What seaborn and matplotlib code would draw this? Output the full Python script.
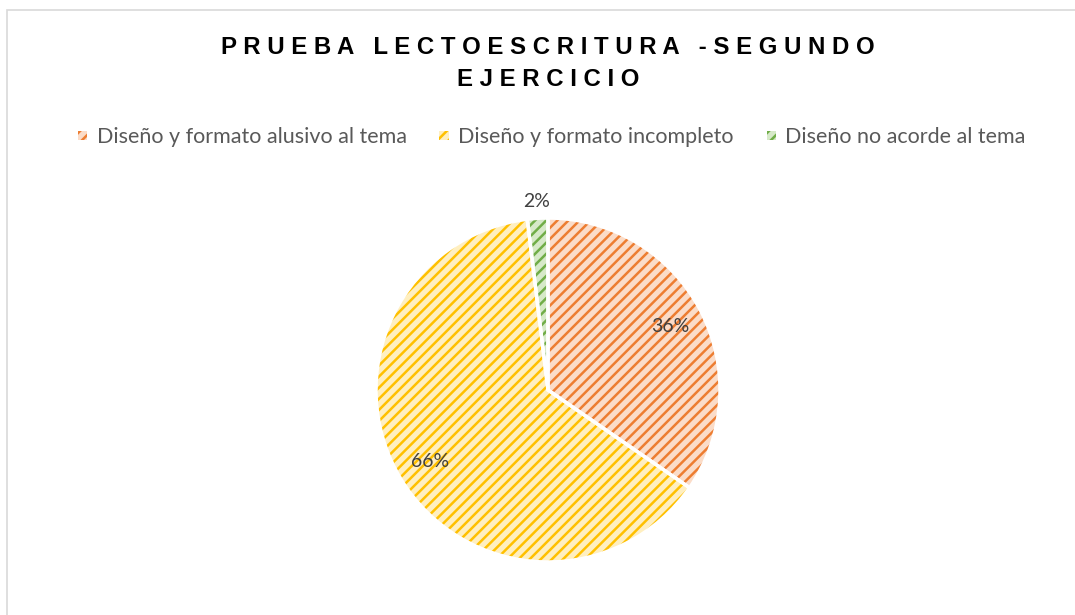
import numpy as np
import matplotlib.pyplot as plt
import seaborn as sns
from matplotlib.patches import Rectangle
from matplotlib.legend_handler import HandlerPatch

# datos
categorias = ['Diseño y formato alusivo al tema', 'Diseño y formato incompleto', 'Diseño no acorde al tema']
valores = [36, 66, 2]
titulo = ['PRUEBA LECTOESCRITURA -SEGUNDO', 'EJERCICIO']

colores_linea = ['#ED7D31', '#FFC000', '#70AD47']
colores_fondo = ['#FBDCC8', '#FFEFC0', '#D6E9C8']

sns.set_theme(style='white')
plt.rcParams['font.family'] = ['Liberation Sans', 'DejaVu Sans']
plt.rcParams['hatch.linewidth'] = 1.8

fig = plt.figure(figsize=(10.75, 6.15), dpi=100)
fig.patch.set_facecolor('white')
fig.patches.append(Rectangle((7 / 1075, -0.1), 1.2, 1 - 10 / 615 + 0.1, transform=fig.transFigure,
                             facecolor='none', edgecolor='#D9D9D9', linewidth=1.2))

cx, cy, r = 548, 390, 172
ax = fig.add_axes([(cx - r) / 1075, (615 - cy - r) / 615, 2 * r / 1075, 2 * r / 615])

wedges, _ = ax.pie(valores, startangle=90, counterclock=False, colors=colores_fondo,
                   wedgeprops=dict(linewidth=0))
for w, c in zip(wedges, colores_linea):
    w.set_hatch('///')
    w.set_edgecolor(c)
# bordes blancos
wedges2, _ = ax.pie(valores, startangle=90, counterclock=False,
                    wedgeprops=dict(facecolor='none', edgecolor='white', linewidth=2.5))
ax.set_xlim(-1, 1)
ax.set_ylim(-1, 1)

# etiquetas de datos
for w, v in zip(wedges, valores):
    ang = np.deg2rad((w.theta1 + w.theta2) / 2)
    d = 1.1 if v < 5 else 0.8
    ax.text(d * np.cos(ang), d * np.sin(ang), f'{v}%', ha='center', va='center',
            fontsize=14, color='#404040', family=['Lato', 'DejaVu Sans'])


def espaciar(s):
    # letras separadas como en el titulo original
    return '   '.join(' '.join(p) for p in s.split(' '))


fig.text(0.51, 1 - 47 / 615, espaciar(titulo[0]), ha='center', va='center', fontsize=17.3,
         fontweight='bold', color='black')
fig.text(0.51, 1 - 80 / 615, espaciar(titulo[1]), ha='center', va='center', fontsize=17.3,
         fontweight='bold', color='black')


class HandlerHatch(HandlerPatch):
    def create_artists(self, legend, orig_handle, xdescent, ydescent, width, height, fontsize, trans):
        s = 7
        p = Rectangle((width / 2 - s / 2, height / 2 - s / 2), s, s,
                      facecolor=orig_handle.get_facecolor(), edgecolor=orig_handle.get_edgecolor(),
                      hatch='///', linewidth=0, transform=trans)
        return [p]


handles = [Rectangle((0, 0), 1, 1, facecolor=f, edgecolor=l) for f, l in zip(colores_fondo, colores_linea)]
leg = fig.legend(handles, categorias, loc='center', bbox_to_anchor=(0.513, 0.777), ncol=3, frameon=False,
                 handler_map={Rectangle: HandlerHatch()}, handlelength=0.5, handletextpad=0.4,
                 columnspacing=1.5, prop={'family': ['Lato', 'DejaVu Sans'], 'size': 15.5})
for t in leg.get_texts():
    t.set_color('#595959')

fig.savefig('out.png', dpi=100, facecolor='white')
